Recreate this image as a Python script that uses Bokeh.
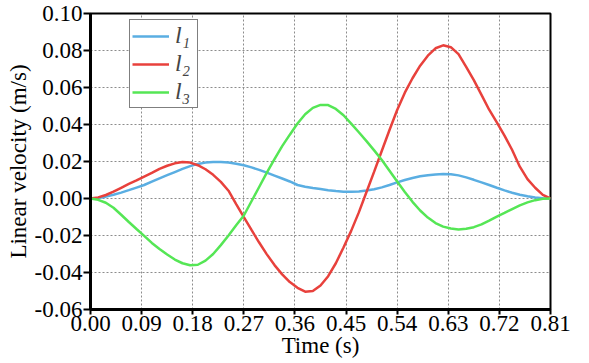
from bokeh.plotting import figure
from bokeh.models import Range1d, FixedTicker, CustomJSTickFormatter, Legend, LegendItem
from bokeh.embed import file_html
from bokeh.resources import INLINE

# Data
t = [0.0000, 0.0135, 0.0270, 0.0405, 0.0540, 0.0675, 0.0810, 0.0945, 0.1080, 0.1215,
     0.1350, 0.1485, 0.1620, 0.1755, 0.1890, 0.2025, 0.2160, 0.2295, 0.2430, 0.2565,
     0.2700, 0.2835, 0.2970, 0.3105, 0.3240, 0.3375, 0.3510, 0.3645, 0.3780, 0.3915,
     0.4050, 0.4185, 0.4320, 0.4455, 0.4590, 0.4725, 0.4860, 0.4995, 0.5130, 0.5265,
     0.5400, 0.5535, 0.5670, 0.5805, 0.5940, 0.6075, 0.6210, 0.6345, 0.6480, 0.6615,
     0.6750, 0.6885, 0.7020, 0.7155, 0.7290, 0.7425, 0.7560, 0.7695, 0.7830, 0.7965,
     0.8100]

l1 = [0.0000, 0.0003, 0.0010, 0.0020, 0.0032, 0.0045, 0.0059, 0.0073, 0.0091, 0.0109,
      0.0126, 0.0143, 0.0160, 0.0175, 0.0187, 0.0194, 0.0197, 0.0197, 0.0194, 0.0188,
      0.0180, 0.0168, 0.0155, 0.0140, 0.0124, 0.0108, 0.0092, 0.0073, 0.0064, 0.0057,
      0.0051, 0.0045, 0.0040, 0.0037, 0.0036, 0.0038, 0.0043, 0.0050, 0.0060, 0.0073,
      0.0087, 0.0100, 0.0111, 0.0120, 0.0126, 0.0130, 0.0132, 0.0131, 0.0125, 0.0114,
      0.0101, 0.0087, 0.0073, 0.0058, 0.0044, 0.0031, 0.0020, 0.0012, 0.0006, 0.0002,
      0.0000]

l2 = [0.0000, 0.0006, 0.0019, 0.0037, 0.0058, 0.0079, 0.0098, 0.0118, 0.0138, 0.0160,
      0.0177, 0.0190, 0.0197, 0.0194, 0.0180, 0.0158, 0.0128, 0.0090, 0.0042, -0.0030,
      -0.0101, -0.0170, -0.0238, -0.0302, -0.0360, -0.0410, -0.0452, -0.0483, -0.0504, -0.0500,
      -0.0470, -0.0420, -0.0350, -0.0265, -0.0175, -0.0075, 0.0035, 0.0145, 0.0258, 0.0370,
      0.0478, 0.0572, 0.0650, 0.0718, 0.0772, 0.0812, 0.0828, 0.0818, 0.0780, 0.0712,
      0.0640, 0.0560, 0.0480, 0.0412, 0.0340, 0.0262, 0.0172, 0.0105, 0.0058, 0.0020,
      0.0000]

l3 = [0.0000, -0.0007, -0.0023, -0.0050, -0.0088, -0.0127, -0.0165, -0.0202, -0.0240, -0.0273,
      -0.0303, -0.0330, -0.0350, -0.0361, -0.0358, -0.0336, -0.0300, -0.0252, -0.0200, -0.0145,
      -0.0092, -0.0015, 0.0062, 0.0140, 0.0213, 0.0283, 0.0345, 0.0405, 0.0455, 0.0490,
      0.0506, 0.0505, 0.0484, 0.0450, 0.0405, 0.0358, 0.0310, 0.0260, 0.0208, 0.0150,
      0.0092, 0.0035, -0.0018, -0.0065, -0.0103, -0.0133, -0.0152, -0.0162, -0.0167, -0.0164,
      -0.0155, -0.0140, -0.0120, -0.0098, -0.0078, -0.0057, -0.0037, -0.0021, -0.0009, -0.0002,
      0.0000]

x_ticks = [0.0, 0.09, 0.18, 0.27, 0.36, 0.45, 0.54, 0.63, 0.72, 0.81]
y_ticks = [-0.06, -0.04, -0.02, 0.0, 0.02, 0.04, 0.06, 0.08, 0.10]

series_names = ["l\u2081", "l\u2082", "l\u2083"]
colors = ["#5aaee2", "#e8413c", "#55e655"]

FONT = "Liberation Serif"

p = figure(width=589, height=363, output_backend="svg", toolbar_location=None,
           x_range=Range1d(0, 0.81), y_range=Range1d(-0.06, 0.10),
           min_border_left=90, min_border_right=39, min_border_top=13, min_border_bottom=54)

p.background_fill_color = "white"
p.border_fill_color = "white"
p.outline_line_color = "black"
p.outline_line_width = 2

renderers = []
for ys, c in zip([l1, l2, l3], colors):
    r = p.line(t, ys, line_color=c, line_width=2.5)
    renderers.append(r)

fmt = CustomJSTickFormatter(code="return tick.toFixed(2);")
for ax in (p.xaxis[0], p.yaxis[0]):
    ax.axis_line_color = "black"
    ax.axis_line_width = 3
    ax.major_tick_line_color = "black"
    ax.major_tick_line_width = 2
    ax.major_tick_in = 0
    ax.minor_tick_line_color = None
    ax.major_label_text_font = FONT
    ax.major_label_text_font_size = "23px"
    ax.major_label_text_color = "black"
    ax.axis_label_text_font = FONT
    ax.axis_label_text_font_size = "23px"
    ax.axis_label_text_font_style = "normal"
    ax.axis_label_text_color = "black"
    ax.formatter = fmt

p.xaxis.ticker = FixedTicker(ticks=x_ticks)
p.yaxis.ticker = FixedTicker(ticks=y_ticks)
p.xaxis.major_tick_out = 5
p.yaxis.major_tick_out = 7
p.xaxis.major_label_standoff = 1
p.yaxis.major_label_standoff = 1
p.xaxis.axis_label = "Time (s)"
p.yaxis.axis_label = "Linear velocity (m/s)"
p.xaxis.axis_label_standoff = -1
p.yaxis.axis_label_standoff = 1

for g in (p.xgrid[0], p.ygrid[0]):
    g.grid_line_color = "#8c8c8c"
    g.grid_line_dash = "2 2"
    g.grid_line_width = 1

items = [LegendItem(label=n, renderers=[r]) for n, r in zip(series_names, renderers)]
legend = Legend(items=items)
legend.margin = 0
legend.location = (39, 201)
legend.border_line_color = "black"
legend.border_line_width = 1.5
legend.background_fill_color = "white"
legend.background_fill_alpha = 1
legend.label_text_font = FONT
legend.label_text_font_style = "italic"
legend.label_text_font_size = "24px"
legend.glyph_width = 37
legend.glyph_height = 26
legend.label_height = 26
legend.spacing = 1
legend.padding = 2
legend.label_standoff = 6
p.add_layout(legend, "center")

open("out.html", "w").write(file_html(p, INLINE))
